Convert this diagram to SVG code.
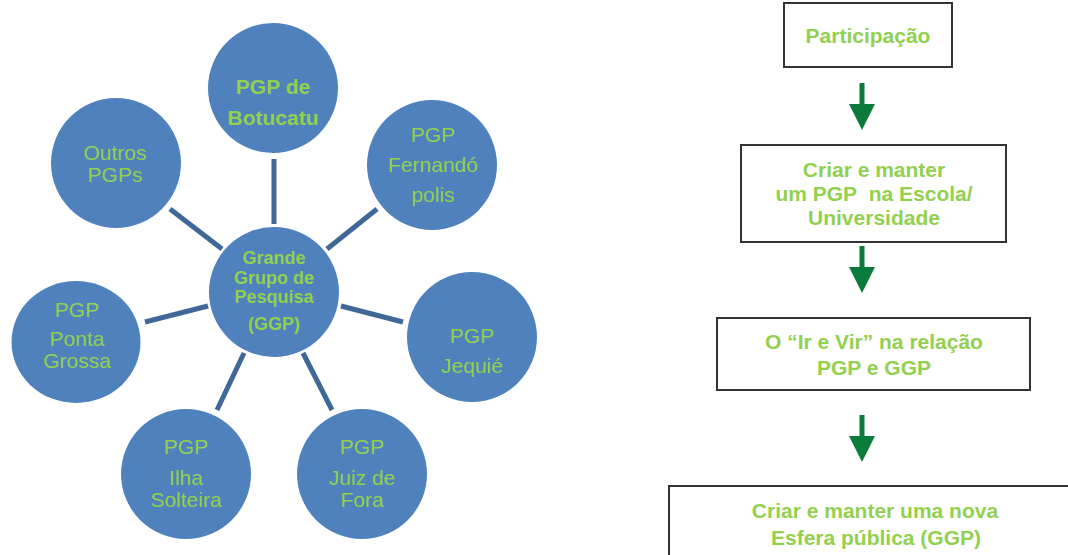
<svg xmlns="http://www.w3.org/2000/svg" width="1068" height="555" viewBox="0 0 1068 555">
  <style>
    .node { fill: #4F81BD; }
    .t { font-family: "Liberation Sans", Arial, sans-serif; fill: #92D050; text-anchor: middle; }
    .r { font-size: 21px; }
    .b { font-size: 21px; font-weight: bold; }
    .bc { font-size: 18px; font-weight: bold; }
    .spoke { stroke: #3F6898; stroke-width: 5; fill: none; }
    .box { fill: #FFFFFF; stroke: #333333; stroke-width: 2; }
    .arrow { fill: #0B7B3C; }
  </style>
  <defs>
    <path id="downArrow" d="M -2.5 0 H 2.5 V 21 H 13 L 0 47 L -13 21 H -2.5 Z"/>
  </defs>

  <rect width="1068" height="555" fill="#FFFFFF"/>

  <g id="connectors">
    <line class="spoke" x1="274" y1="159" x2="274" y2="224"/>
    <line class="spoke" x1="170" y1="209" x2="222" y2="249"/>
    <line class="spoke" x1="377" y1="209" x2="327" y2="249"/>
    <line class="spoke" x1="145" y1="322" x2="208" y2="306"/>
    <line class="spoke" x1="341" y1="306" x2="403" y2="322"/>
    <line class="spoke" x1="244" y1="353" x2="217" y2="410"/>
    <line class="spoke" x1="303" y1="353" x2="332" y2="410"/>
    <use href="#downArrow" class="arrow" x="862" y="83"/>
    <use href="#downArrow" class="arrow" x="862" y="246"/>
    <use href="#downArrow" class="arrow" x="862" y="415"/>
  </g>

  <g id="ggp">
    <circle class="node" cx="274" cy="292" r="65"/>
    <text class="t bc" x="274" y="264">Grande</text>
    <text class="t bc" x="274" y="284">Grupo de</text>
    <text class="t bc" x="274" y="303">Pesquisa</text>
    <text class="t bc" x="274" y="330">(GGP)</text>
  </g>

  <g id="botucatu">
    <circle class="node" cx="273" cy="88" r="65"/>
    <text class="t b" x="273" y="94">PGP de</text>
    <text class="t b" x="273" y="125">Botucatu</text>
  </g>

  <g id="outros">
    <circle class="node" cx="116" cy="163" r="65"/>
    <text class="t r" x="115" y="160">Outros</text>
    <text class="t r" x="115" y="182">PGPs</text>
  </g>

  <g id="fernandopolis">
    <circle class="node" cx="432" cy="165" r="65"/>
    <text class="t r" x="433" y="142">PGP</text>
    <text class="t r" x="433" y="172">Fernandó</text>
    <text class="t r" x="433" y="202">polis</text>
  </g>

  <g id="pontagrossa">
    <ellipse class="node" cx="76" cy="342" rx="64.5" ry="61"/>
    <text class="t r" x="77" y="317">PGP</text>
    <text class="t r" x="77" y="346">Ponta</text>
    <text class="t r" x="77" y="368">Grossa</text>
  </g>

  <g id="jequie">
    <circle class="node" cx="472" cy="337" r="65"/>
    <text class="t r" x="472" y="343">PGP</text>
    <text class="t r" x="472" y="373">Jequié</text>
  </g>

  <g id="ilhasolteira">
    <circle class="node" cx="186" cy="474" r="65"/>
    <text class="t r" x="186" y="454">PGP</text>
    <text class="t r" x="186" y="485">Ilha</text>
    <text class="t r" x="186" y="507">Solteira</text>
  </g>

  <g id="juizdefora">
    <circle class="node" cx="362" cy="474" r="65"/>
    <text class="t r" x="362" y="454">PGP</text>
    <text class="t r" x="362" y="485">Juiz de</text>
    <text class="t r" x="362" y="507">Fora</text>
  </g>

  <g id="participacao">
    <rect class="box" x="784" y="3" width="168" height="64"/>
    <text class="t b" x="868" y="43">Participação</text>
  </g>

  <g id="criar-pgp">
    <rect class="box" x="741" y="145" width="265" height="97"/>
    <text class="t b" x="874" y="177">Criar e manter</text>
    <text class="t b" x="874" y="201">um PGP&#160; na Escola/</text>
    <text class="t b" x="874" y="225">Universidade</text>
  </g>

  <g id="ir-e-vir">
    <rect class="box" x="717" y="318" width="313" height="72"/>
    <text class="t b" x="874" y="349">O “Ir e Vir” na relação</text>
    <text class="t b" x="874" y="375">PGP e GGP</text>
  </g>

  <g id="esfera">
    <rect class="box" x="669" y="486" width="412" height="90"/>
    <text class="t b" x="875" y="518">Criar e manter uma nova</text>
    <text class="t b" x="876" y="545">Esfera pública (GGP)</text>
  </g>
</svg>
